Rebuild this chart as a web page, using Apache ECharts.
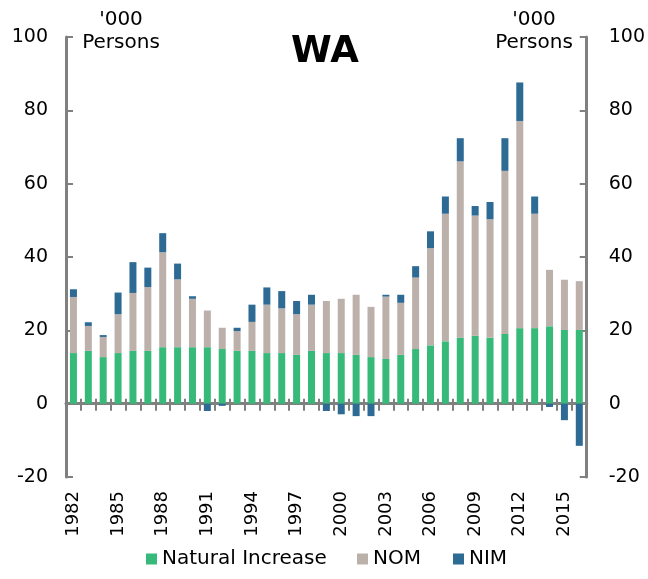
<!DOCTYPE html>
<html>
<head>
<meta charset="utf-8">
<script src="https://cdn.jsdelivr.net/npm/echarts@6/dist/echarts.min.js"></script>
<style>
  html, body { margin: 0; padding: 0; background: #fff; }
  #chart { width: 648px; height: 579px; }
</style>
</head>
<body>
<div id="chart"></div>
<script>
// WA population growth components, '000 persons
const years = []
for (let y = 1982; y <= 2016; y++) years.push(String(y))

const naturalIncrease = [13.8, 14.4, 12.7, 13.8, 14.4, 14.4, 15.4, 15.4, 15.4, 15.4, 14.9, 14.4, 14.4,
  13.8, 13.8, 13.3, 14.4, 13.8, 13.8, 13.3, 12.7, 12.2, 13.3, 14.9, 15.9,
  17.0, 18.0, 18.5, 18.0, 19.0, 20.6, 20.6, 21.1, 20.1, 20.1]
const nom = [15.3, 6.8, 5.5, 10.6, 15.8, 17.4, 25.9, 18.5, 13.2, 10.0, 5.8, 5.4, 7.9,
  13.2, 12.2, 11.1, 12.6, 14.2, 14.8, 16.4, 13.7, 17.0, 14.2, 19.5, 26.5,
  34.8, 48.1, 32.8, 32.3, 44.5, 56.5, 31.2, 15.4, 13.7, 13.3]
const nim = [2.1, 1.0, 0.5, 5.9, 8.4, 5.3, 5.2, 4.3, 0.7, -2.0, -0.6, 0.9, 4.7,
  4.7, 4.7, 3.6, 2.7, -2.0, -2.9, -3.4, -3.4, 0.5, 2.2, 3.1, 4.6,
  4.7, 6.3, 2.6, 4.7, 8.9, 10.5, 4.7, -0.9, -4.5, -11.5]

const axisColor = '#808080'
const font = 'DejaVu Sans, sans-serif'

const myChart = echarts.init(document.getElementById('chart'))

const yAxisBase = {
  type: 'value',
  min: -20,
  max: 100,
  interval: 20,
  splitLine: { show: false },
  axisLine: { show: true, lineStyle: { color: axisColor, width: 3 } },
  axisTick: { show: true, inside: true, length: 7, lineStyle: { color: axisColor, width: 2 } },
  axisLabel: { color: '#000', fontSize: 19, fontFamily: font, margin: 18 }
}

const unitText = (x, y, text) => ({
  type: 'text', x: x, y: y,
  style: { text: text, font: '20px ' + font, fill: '#000', align: 'center', verticalAlign: 'middle' }
})

// one legend per item so each sits where the reference has it
const legendItem = (name, left) => ({
  bottom: 5,
  left: left,
  icon: 'rect',
  itemWidth: 11,
  itemHeight: 11,
  textStyle: { fontSize: 20, fontFamily: font, color: '#000' },
  data: [name]
})

const option = {
  animation: false,
  grid: { left: 66, right: 60, top: 37, bottom: 102 },
  graphic: [
    { type: 'text', x: 325, y: 52, style: { text: 'WA', font: 'bold 37px ' + font, fill: '#000', align: 'center', verticalAlign: 'middle' } },
    unitText(121, 20, "'000"),
    unitText(121, 43, 'Persons'),
    unitText(534, 20, "'000"),
    unitText(534, 43, 'Persons')
  ],
  legend: [
    legendItem('Natural Increase', 141),
    legendItem('NOM', 352),
    legendItem('NIM', 448)
  ],
  xAxis: [
    {
      type: 'category',
      data: years,
      axisLine: { show: true, onZero: true, lineStyle: { color: axisColor, width: 3 } },
      axisTick: { show: true, interval: 0, length: 7, lineStyle: { color: axisColor, width: 2 } },
      axisLabel: { show: false }
    },
    {
      type: 'category',
      data: years,
      position: 'bottom',
      axisLine: { show: false, onZero: false },
      axisTick: { show: false },
      axisLabel: { interval: 2, rotate: 90, color: '#000', fontSize: 18, fontFamily: font, margin: 14 }
    },
    {
      // short upward ticks on the zero line
      type: 'category',
      data: years,
      position: 'top',
      axisLine: { show: false, onZero: true },
      axisTick: { show: true, interval: 0, length: 5, lineStyle: { color: axisColor, width: 2 } },
      axisLabel: { show: false }
    }
  ],
  yAxis: [
    Object.assign({}, yAxisBase, { position: 'left' }),
    Object.assign({}, yAxisBase, { position: 'right', axisLabel: Object.assign({}, yAxisBase.axisLabel, { margin: 22 }) })
  ],
  series: [
    {
      name: 'Natural Increase',
      type: 'bar',
      stack: 'total',
      barWidth: 7,
      itemStyle: { color: '#37b97a' },
      data: naturalIncrease
    },
    {
      name: 'NOM',
      type: 'bar',
      stack: 'total',
      barWidth: 7,
      itemStyle: { color: '#bbb0aa' },
      data: nom
    },
    {
      name: 'NIM',
      type: 'bar',
      stack: 'total',
      barWidth: 7,
      itemStyle: { color: '#2d6a94' },
      data: nim
    }
  ]
}

option && myChart.setOption(option)
</script>
</body>
</html>
